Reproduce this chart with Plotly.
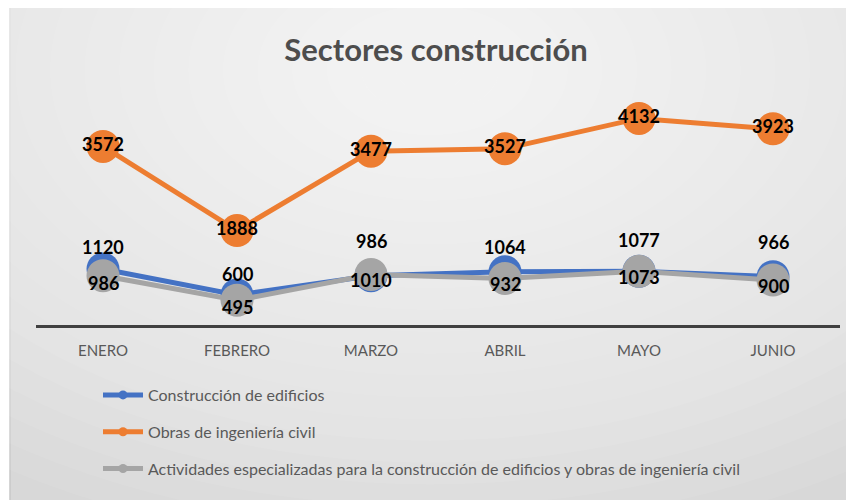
import plotly.graph_objects as go

months = ["ENERO", "FEBRERO", "MARZO", "ABRIL", "MAYO", "JUNIO"]
edificios = [1120, 600, 986, 1064, 1077, 966]
obras_civil = [3572, 1888, 3477, 3527, 4132, 3923]
actividades = [986, 495, 1010, 932, 1073, 900]

names = [
    "Construcción de edificios",
    "Obras de ingeniería civil",
    "Actividades especializadas para la construcción de edificios y obras de ingeniería civil",
]
colors = ["#4472C4", "#ED7D31", "#A5A5A5"]

# label offsets (px) for data labels
blue_shift = [22, 21, 35, 25, 31, 35]
gray_shift = [-7, -7, -5, -6, -6, -6]

W, H = 854, 500
OFF = 8  # page body margin
ML, MR, MT, MB = 28, 22, 92, 183
PW, PH = W - ML - MR, H - MT - MB


def px(X):
    return (X - OFF - ML) / PW


def py(Y):
    return (H - MB - (Y - OFF)) / PH


FONT = "Lato"
LBL = dict(family=FONT, size=18, color="#000000", weight="bold")
fig = go.Figure()

fig.add_trace(go.Scatter(
    x=months, y=obras_civil, mode="lines+markers+text", name=names[1],
    line=dict(color=colors[1], width=5), marker=dict(size=33, color=colors[1]),
    text=[str(v) for v in obras_civil], textposition="middle center",
    textfont=LBL, showlegend=False, cliponaxis=False))
fig.add_trace(go.Scatter(
    x=months, y=edificios, mode="lines+markers", name=names[0],
    line=dict(color=colors[0], width=5), marker=dict(size=33, color=colors[0]),
    showlegend=False, cliponaxis=False))
fig.add_trace(go.Scatter(
    x=months, y=actividades, mode="lines+markers", name=names[2],
    line=dict(color=colors[2], width=5), marker=dict(size=33, color=colors[2]),
    showlegend=False, cliponaxis=False))

for m, v, s in zip(months, edificios, blue_shift):
    fig.add_annotation(x=m, y=v, text=str(v), showarrow=False, yshift=s, font=LBL)
for m, v, s in zip(months, actividades, gray_shift):
    fig.add_annotation(x=m, y=v, text=str(v), showarrow=False, yshift=s, font=LBL)

# legend-only traces
for i, (nm, c) in enumerate(zip(names, colors)):
    fig.add_trace(go.Scatter(
        x=[None], y=[None], mode="lines+markers", name=nm,
        line=dict(color=c, width=5), marker=dict(size=9, color=c),
        legendgroup=f"g{i}", showlegend=True))

shapes = [dict(type="rect", xref="paper", yref="paper", x0=px(10), x1=px(870),
               y0=py(520), y1=py(7), fillcolor="#d8d8d8",
               line=dict(color="#c8c8c8", width=1.5), layer="below")]
cx, cy = 430, 70
N = 22
for k in range(N, 0, -1):
    rx, ry = 760 * k / N, 480 * k / N
    shapes.append(dict(type="circle", xref="paper", yref="paper",
                       x0=px(cx - rx), x1=px(cx + rx), y0=py(cy + ry), y1=py(cy - ry),
                       fillcolor="rgba(255,255,255,0.07)", line=dict(width=0), layer="below"))

fig.update_layout(
    width=W, height=H,
    margin=dict(l=ML, r=MR, t=MT, b=MB, autoexpand=False),
    paper_bgcolor="#ffffff", plot_bgcolor="rgba(0,0,0,0)",
    shapes=shapes,
    title=dict(text="Sectores construcción", x=(436 - OFF) / W, xref="container", xanchor="center",
               y=1 - (50 - OFF) / H, yref="container", yanchor="middle",
               font=dict(family=FONT, size=31, color="#4d4d4d", weight="bold")),
    xaxis=dict(showline=True, linewidth=3, linecolor="#404040", showgrid=False,
               zeroline=False, ticks="", ticklabelstandoff=10, tickangle=0,
               range=[-0.5, 5.5], autorange=False,
               tickfont=dict(family=FONT, size=15, color="#595959"), fixedrange=True),
    yaxis=dict(range=[0, 4500], visible=False, showgrid=False, zeroline=False),
    legend=dict(xref="container", yref="container", x=(98 - OFF) / W, y=1 - (378 - OFF) / H,
                xanchor="left", yanchor="top", bgcolor="rgba(0,0,0,0)",
                font=dict(family=FONT, size=16, color="#595959"),
                tracegroupgap=13, itemwidth=40),
    showlegend=True,
)

fig.write_html("out.html")
